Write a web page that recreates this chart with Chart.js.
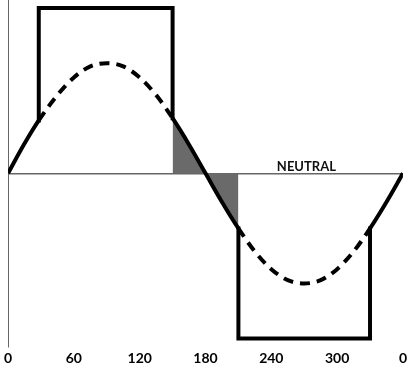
<!DOCTYPE html>
<html>
<head>
<meta charset="utf-8">
<script src="https://cdn.jsdelivr.net/npm/chart.js@4/dist/chart.umd.min.js"></script>
<style>
  html, body { margin: 0; padding: 0; background: #fff; }
  canvas { display: block; }
</style>
</head>
<body>
<canvas id="wave" width="411" height="370"></canvas>
<script>
// Sine wave (degrees -> relative amplitude)
const sineDeg = [0, 15, 28, 45, 60, 75, 90, 105, 120, 135, 150, 165, 180, 195, 210, 225, 240, 255, 270, 285, 300, 315, 330, 345, 360];
const sineVal = [0, 0.27, 0.48, 0.71, 0.87, 0.97, 1.0, 0.97, 0.87, 0.71, 0.5, 0.26, 0, -0.26, -0.5, -0.71, -0.87, -0.97, -1.0, -0.97, -0.87, -0.71, -0.5, -0.26, 0];

// Square wave outline (null = pen lifted)
const squareDeg = [28, 28, 150, 150, 180, 210, 210, 330, 330];
const squareVal = [0.48, 1.5, 1.5, 0.5, null, -0.5, -1.5, -1.5, -0.5];

// Shaded part of the sine, between the two square steps
const shadeFrom = 150;
const shadeTo = 210;

// Dashed parts of the sine (hidden under the square wave)
const dashedRanges = [[28, 150], [210, 330]];

const tickDeg = [0, 60, 120, 180, 240, 300, 360];
const tickText = ['0', '60', '120', '180', '240', '300', '0'];

const FONT = 'Lato, "DejaVu Sans", sans-serif';

function pts(xs, ys) {
    return xs.map((x, i) => ({ x, y: ys[i] }));
}

const sinePts = pts(sineDeg, sineVal);
const shadePts = sinePts.filter(p => p.x >= shadeFrom && p.x <= shadeTo);

function isDashed(ctx) {
    const a = ctx.p0.parsed.x, b = ctx.p1.parsed.x;
    return dashedRanges.some(r => a >= r[0] && b <= r[1]);
}

const neutralLabel = {
    id: 'neutralLabel',
    afterDatasetsDraw(chart) {
        const { ctx, scales } = chart;
        ctx.save();
        ctx.font = 'bold 13px ' + FONT;
        ctx.fillStyle = '#111';
        ctx.textAlign = 'center';
        ctx.textBaseline = 'alphabetic';
        ctx.fillText('NEUTRAL', scales.x.getPixelForValue(272), scales.y.getPixelForValue(0) - 2);
        ctx.restore();
    }
};

new Chart(document.getElementById('wave'), {
    type: 'line',
    data: {
        datasets: [
            {
                label: 'shade',
                data: shadePts,
                borderWidth: 0,
                pointRadius: 0,
                fill: 'origin',
                backgroundColor: '#6a6a6a',
                cubicInterpolationMode: 'monotone',
                order: 3
            },
            {
                label: 'sine',
                data: sinePts,
                borderColor: '#000',
                borderWidth: 4,
                pointRadius: 0,
                fill: false,
                cubicInterpolationMode: 'monotone',
                borderCapStyle: 'butt',
                segment: {
                    borderDash: ctx => isDashed(ctx) ? [10, 7] : undefined
                },
                order: 2
            },
            {
                label: 'square',
                data: pts(squareDeg, squareVal),
                borderColor: '#000',
                borderWidth: 4,
                pointRadius: 0,
                fill: false,
                tension: 0,
                spanGaps: false,
                borderJoinStyle: 'miter',
                borderCapStyle: 'square',
                order: 1
            }
        ]
    },
    options: {
        responsive: false,
        animation: false,
        layout: { padding: { left: 8, right: 2, top: 0, bottom: 0 } },
        plugins: { legend: { display: false }, tooltip: { enabled: false } },
        scales: {
            x: {
                type: 'linear',
                min: 0,
                max: 360,
                afterBuildTicks: axis => { axis.ticks = tickDeg.map(v => ({ value: v })); },
                grid: { display: false, drawTicks: false },
                border: { display: false },
                ticks: {
                    autoSkip: false,
                    maxRotation: 0,
                    padding: 4,
                    color: '#000',
                    font: { family: FONT, size: 14, weight: 'bold', lineHeight: 1.1 },
                    callback: v => tickText[tickDeg.indexOf(v)]
                }
            },
            y: {
                min: -1.573,
                max: 1.573,
                afterBuildTicks: axis => { axis.ticks = [{ value: 0 }]; },
                ticks: { display: false },
                grid: {
                    drawTicks: false,
                    color: '#666',
                    lineWidth: 1.5
                },
                border: { display: true, color: '#666', width: 1 }
            }
        }
    },
    plugins: [neutralLabel]
});
</script>
</body>
</html>
